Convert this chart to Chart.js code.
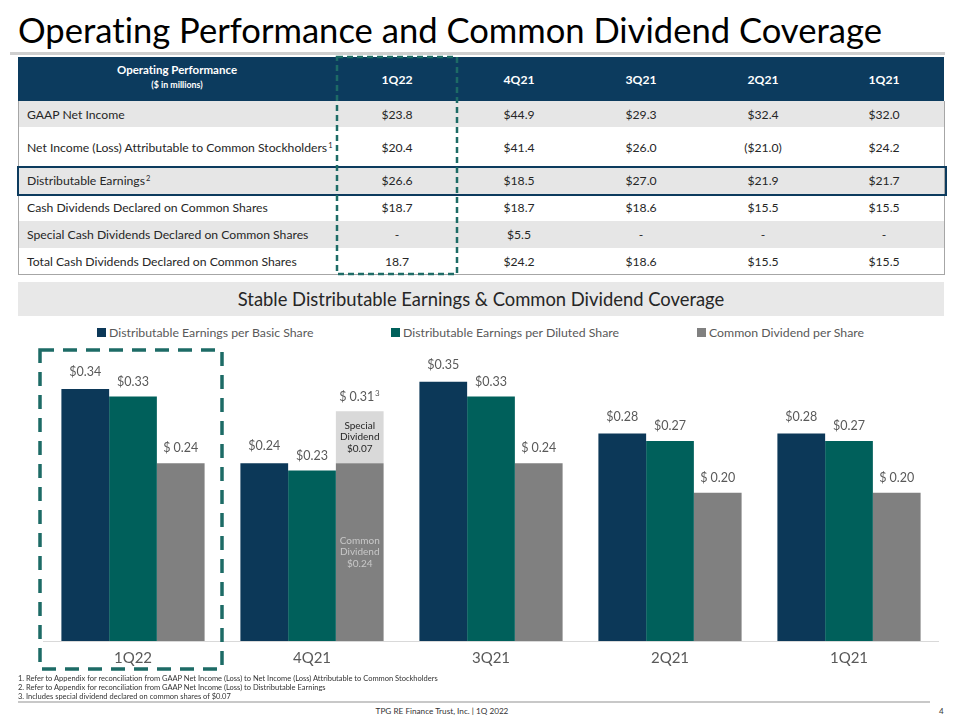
<!DOCTYPE html>
<html><head><meta charset="utf-8">
<script src="https://cdn.jsdelivr.net/npm/chart.js@4.4.0/dist/chart.umd.min.js"></script>
<style>
body{margin:0;width:960px;height:720px;position:relative;background:#fff;font-family:Lato,"Open Sans",sans-serif;overflow:hidden;color:#262626;font-variant-ligatures:none}
.abs{position:absolute;white-space:nowrap}
#title{left:18px;top:12px;font-size:34.6px;line-height:35px;color:#000}
.cell{position:absolute;display:flex;align-items:center;font-size:12.2px;white-space:nowrap}
.cen{justify-content:center}
.leg{position:absolute;top:325px;font-size:12.3px;color:#595959;line-height:16px;white-space:nowrap}
.leg i{display:inline-block;width:9px;height:9px;margin-right:3px;vertical-align:0px}
.fn{position:absolute;left:18px;font-size:7.5px;color:#333;white-space:nowrap;line-height:9px}
</style></head>
<body>
<div id="title" class="abs">Operating Performance and Common Dividend Coverage</div>
<div class="abs" style="left:10px;top:52px;width:935px;height:3px;background:#cfcfcf"></div>
<div id="table"></div>
<div class="abs" style="left:18px;top:282px;width:926px;height:34px;background:#e8e8e8"></div>
<div id="band" class="abs" style="left:0;width:962px;top:287px;text-align:center;font-size:18.4px;line-height:24px;color:#262626">Stable Distributable Earnings &amp; Common Dividend Coverage</div>
<div id="legend"></div>
<div class="abs" style="left:0;top:320px;width:960px;height:360px"><canvas id="c"></canvas></div>
<div class="fn" style="top:674px">1. Refer to Appendix for reconciliation from GAAP Net Income (Loss) to Net Income (Loss) Attributable to Common Stockholders</div>
<div class="fn" style="top:683px">2. Refer to Appendix for reconciliation from GAAP Net Income (Loss) to Distributable Earnings</div>
<div class="fn" style="top:692px">3. Includes special dividend declared on common shares of $0.07</div>
<div class="abs" style="left:18px;top:701px;width:912px;height:2px;background:#c8c8c8"></div>
<div class="abs" style="left:0;width:884px;top:706px;text-align:center;font-size:8.2px;color:#333;line-height:10px">TPG RE Finance Trust, Inc. | 1Q 2022</div>
<div class="abs" style="left:939px;top:706px;font-size:8px;color:#333;line-height:10px">4</div>
<svg class="abs" style="left:0;top:0" width="960" height="720">
<rect x="337" y="57" width="120" height="217" fill="none" stroke="#1d6b66" stroke-width="2.5" stroke-dasharray="6 4"/>
<rect x="40" y="350" width="182" height="319" fill="none" stroke="#1d6b66" stroke-width="3.5" stroke-dasharray="14 9"/>
</svg>
<script>
// ---- Table data ----
const periods = ["1Q22","4Q21","3Q21","2Q21","1Q21"];
const rowLabels = ["GAAP Net Income","Net Income (Loss) Attributable to Common Stockholders<sup>1</sup>","Distributable Earnings<sup>2</sup>","Cash Dividends Declared on Common Shares","Special Cash Dividends Declared on Common Shares","Total Cash Dividends Declared on Common Shares"];
const gaapNetIncome = ["$23.8","$44.9","$29.3","$32.4","$32.0"];
const netIncomeCommon = ["$20.4","$41.4","$26.0","($21.0)","$24.2"];
const distributableEarnings = ["$26.6","$18.5","$27.0","$21.9","$21.7"];
const cashDividends = ["$18.7","$18.7","$18.6","$15.5","$15.5"];
const specialCashDividends = ["-","$5.5","-","-","-"];
const totalCashDividends = ["18.7","$24.2","$18.6","$15.5","$15.5"];
// ---- Chart data ----
const categories = ["1Q22","4Q21","3Q21","2Q21","1Q21"];
const seriesNames = ["Distributable Earnings per Basic Share","Distributable Earnings per Diluted Share","Common Dividend per Share"];
const deBasic = [0.34,0.24,0.35,0.28,0.28];
const deDiluted = [0.33,0.23,0.33,0.27,0.27];
const commonDiv = [0.24,0.24,0.24,0.20,0.20];
const specialDiv = [null,0.07,null,null,null];

// ---- Build table ----
const tb = document.getElementById('table');
const TL=18, TW=926, colX=[18,336,458,580,702,824,944];
const rowTop=[101,127,167,194,221,248,275];
const rowBg=['#e6e6e6','#fff','#e6e6e6','#fff','#e6e6e6','#fff'];
const rows=[gaapNetIncome,netIncomeCommon,distributableEarnings,cashDividends,specialCashDividends,totalCashDividends];
function div(style,html,cls){const d=document.createElement('div');d.className=cls||'abs';d.style.cssText=style;if(html!=null)d.innerHTML=html;tb.appendChild(d);return d;}
div(`left:${TL}px;top:57px;width:${TW}px;height:44px;background:#0c3b5e`);
div(`left:18px;top:63px;width:318px;text-align:center;color:#fff;font-weight:bold;font-size:11.5px;line-height:14px`,'Operating Performance<br><span style="font-size:8.8px">($ in millions)</span>');
periods.forEach((p,i)=>div(`left:${colX[i+1]}px;top:57px;width:${colX[i+2]-colX[i+1]}px;height:44px;font-weight:bold;color:#fff`,p,'cell cen'));
rows.forEach((r,ri)=>{
  const t=rowTop[ri],h=rowTop[ri+1]-t;
  div(`left:${TL}px;top:${t}px;width:${TW}px;height:${h}px;background:${rowBg[ri]}`);
  div(`left:27px;top:${t}px;height:${h}px`,`<span>${rowLabels[ri]}</span>`,'cell');
  r.forEach((v,i)=>div(`left:${colX[i+1]}px;top:${t}px;width:${colX[i+2]-colX[i+1]}px;height:${h}px`,v,'cell cen'));
});
document.querySelectorAll('sup').forEach(s=>{s.style.fontSize='7.5px';s.style.verticalAlign='4px';s.style.lineHeight='0';s.style.marginLeft='1px';});
div(`left:${TL}px;top:101px;width:${TW-1}px;height:173px;border:1px solid #a6a6a6;border-top:none;box-sizing:content-box`);
div(`left:${TL-1}px;top:166px;width:${TW}px;height:26px;border:2px solid #0c3b5e`);

// ---- Legend ----
const lg=document.getElementById('legend');
const legColors=['#0c3858','#00605b','#808080'];
const legX=[97,391,697];
seriesNames.forEach((n,i)=>{const d=document.createElement('div');d.className='leg';d.style.left=legX[i]+'px';d.innerHTML=`<i style="background:${legColors[i]}"></i>${n}`;lg.appendChild(d);});

// ---- Chart ----
const labelPlugin={id:'vlabels',afterDatasetsDraw(chart){
  const ctx=chart.ctx;ctx.save();ctx.textAlign='center';ctx.textBaseline='middle';
  ctx.font='12.5px Lato';ctx.fillStyle='#595959';
  [0,1].forEach(di=>{chart.getDatasetMeta(di).data.forEach((bar,i)=>{
    const v=chart.data.datasets[di].data[i];ctx.fillText('$'+v.toFixed(2),bar.x,bar.y-(di===0?17:15));});});
  const mc=chart.getDatasetMeta(2),ms=chart.getDatasetMeta(3);
  mc.data.forEach((bar,i)=>{
    const s=specialDiv[i];
    ctx.font='12.5px Lato';ctx.fillStyle='#595959';
    if(s==null){ctx.fillText('$ '+commonDiv[i].toFixed(2),bar.x,bar.y-15);}
    else{
      const sb=ms.data[i];const txt='$ '+(commonDiv[i]+s).toFixed(2);
      const w=ctx.measureText(txt).width;ctx.fillText(txt,bar.x-3,sb.y-14);
      ctx.font='8px Lato';ctx.fillText('3',bar.x-3+w/2+3,sb.y-18);
      ctx.font='10px Lato';ctx.fillStyle='#262626';
      const cy=(sb.y+bar.y)/2;
      ['Special','Dividend','$'+s.toFixed(2)].forEach((t,k)=>ctx.fillText(t,bar.x,cy+(k-1)*11.5));
      ctx.fillStyle='#c8c8c8';
      const cc=(bar.y+bar.base)/2;
      ['Common','Dividend','$'+commonDiv[i].toFixed(2)].forEach((t,k)=>ctx.fillText(t,bar.x,cc+(k-1)*11.5));
    }
  });
  ctx.restore();
}};
new Chart(document.getElementById('c'),{
  type:'bar',
  data:{labels:categories,datasets:[
    {label:seriesNames[0],data:deBasic,backgroundColor:legColors[0],stack:'a'},
    {label:seriesNames[1],data:deDiluted,backgroundColor:legColors[1],stack:'b'},
    {label:seriesNames[2],data:commonDiv,backgroundColor:legColors[2],stack:'c'},
    {label:'Special Dividend',data:specialDiv,backgroundColor:'#d9d9d9',stack:'c'}
  ]},
  options:{responsive:true,maintainAspectRatio:false,animation:false,
    datasets:{bar:{barPercentage:1,categoryPercentage:0.8,borderWidth:0}},
    layout:{padding:{left:43.5,right:21.5,top:24.6,bottom:0}},
    plugins:{legend:{display:false},tooltip:{enabled:false}},
    scales:{
      x:{stacked:true,grid:{display:false,drawTicks:false},border:{display:true,color:'#d9d9d9',width:1},
         ticks:{font:{family:'Lato',size:15},color:'#595959',padding:8},afterFit:s=>{s.height=39;}},
      y:{stacked:true,display:false,min:0,max:0.40}
    }},
  plugins:[labelPlugin]
});
</script>
</body></html>
